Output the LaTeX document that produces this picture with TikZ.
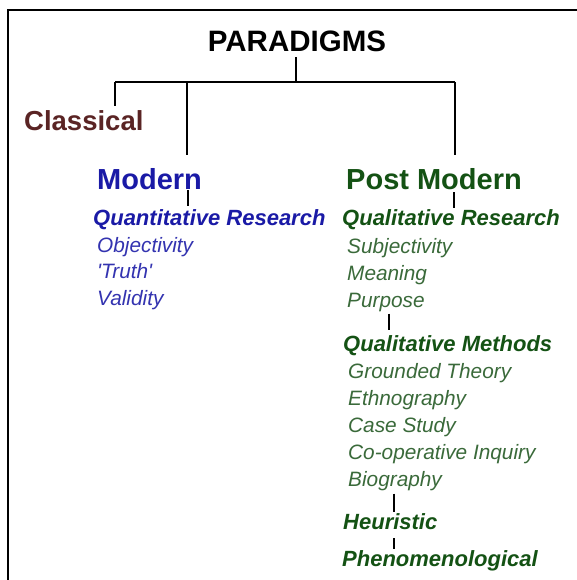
\documentclass[tikz,border=0pt]{standalone}
\usepackage{fontspec}
\setmainfont{Liberation Sans}
\definecolor{clscol}{HTML}{5A2424}
\definecolor{modblue}{HTML}{1A1AA6}
\definecolor{ltblue}{HTML}{3333B0}
\definecolor{pmgreen}{HTML}{145214}
\definecolor{ltgreen}{HTML}{3A6A3A}
\begin{document}
\begin{tikzpicture}[x=1pt,y=-1pt,
  lbl/.style={anchor=base west,inner sep=0pt},
  head/.style={lbl,font=\fontsize{29}{29}\selectfont\bfseries},
  sub/.style={lbl,font=\fontsize{22}{22}\selectfont\bfseries\itshape},
  item/.style={lbl,font=\fontsize{20.8}{21}\selectfont\itshape},
  conn/.style={line width=2pt}]
\useasboundingbox (0,0) rectangle (577,580);
\fill[white] (0,0) rectangle (577,580);
\draw[line width=2pt] (8,582) -- (8,10) -- (579,10);

\node[anchor=base,inner sep=0pt,font=\fontsize{29.5}{30}\selectfont\bfseries] (par) at (297,52) {PARADIGMS};
\node[head,text=clscol,font=\fontsize{27.5}{28}\selectfont\bfseries] (cls) at (24,131) {Classical};
\node[head,text=modblue] (mod) at (97,189) {Modern};
\node[head,text=pmgreen] (pm) at (346,189) {Post Modern};

\node[sub,text=modblue] (quant) at (93,225) {Quantitative Research};
\node[item,text=ltblue] (obj) at (97,252) {Objectivity};
\node[item,text=ltblue] (tru) at (97,278) {\textquotesingle Truth\textquotesingle};
\node[item,text=ltblue] (val) at (97,305) {Validity};

\node[sub,text=pmgreen] (qual) at (342,225) {Qualitative Research};
\node[item,text=ltgreen] (subj) at (347,253) {Subjectivity};
\node[item,text=ltgreen] (mean) at (347,280) {Meaning};
\node[item,text=ltgreen] (purp) at (347,307) {Purpose};
\node[sub,text=pmgreen] (meth) at (343,351) {Qualitative Methods};
\node[item,text=ltgreen] (grt) at (348,378) {Grounded Theory};
\node[item,text=ltgreen] (eth) at (348,405) {Ethnography};
\node[item,text=ltgreen] (cst) at (348,432) {Case Study};
\node[item,text=ltgreen] (coi) at (348,459) {Co-operative Inquiry};
\node[item,text=ltgreen] (bio) at (348,486) {Biography};
\node[sub,text=pmgreen] (heu) at (343,529) {Heuristic};
\node[sub,text=pmgreen] (phe) at (342,566) {Phenomenological};

\coordinate (jc) at (296,82);
\coordinate (jl) at (115,82);
\coordinate (jm) at (187,82);
\coordinate (jr) at (455,82);
\coordinate (xq) at (188,0);
\coordinate (xp) at (454,0);
\coordinate (xm) at (389,0);
\coordinate (xb) at (394,0);

\draw[conn] ([yshift=-5pt]par.south -| jc) -- (jc);
\draw[conn] (jl) -- (jr);
\draw[conn,shorten >=5pt] (jl) -- (jl |- cls.north);
\draw[conn,shorten >=13pt] (jm) -- (jm |- mod.north);
\draw[conn,shorten >=13pt] (jr) -- (jr |- pm.north);
\draw[conn,shorten <=1pt,shorten >=3pt] (xq |- mod.south) -- (xq |- quant.north);
\draw[conn,shorten <=3pt,shorten >=1pt] (xp |- pm.south) -- (xp |- qual.north);
\draw[conn,shorten <=2pt,shorten >=5pt] (xm |- purp.south) -- (xm |- meth.north);
\draw[conn,shorten <=3pt,shorten >=1pt] (xb |- bio.south) -- (xb |- heu.north);
\draw[conn,shorten <=9pt,shorten >=1pt] (xb |- heu.south) -- (xb |- phe.north);
\end{tikzpicture}
\end{document}
